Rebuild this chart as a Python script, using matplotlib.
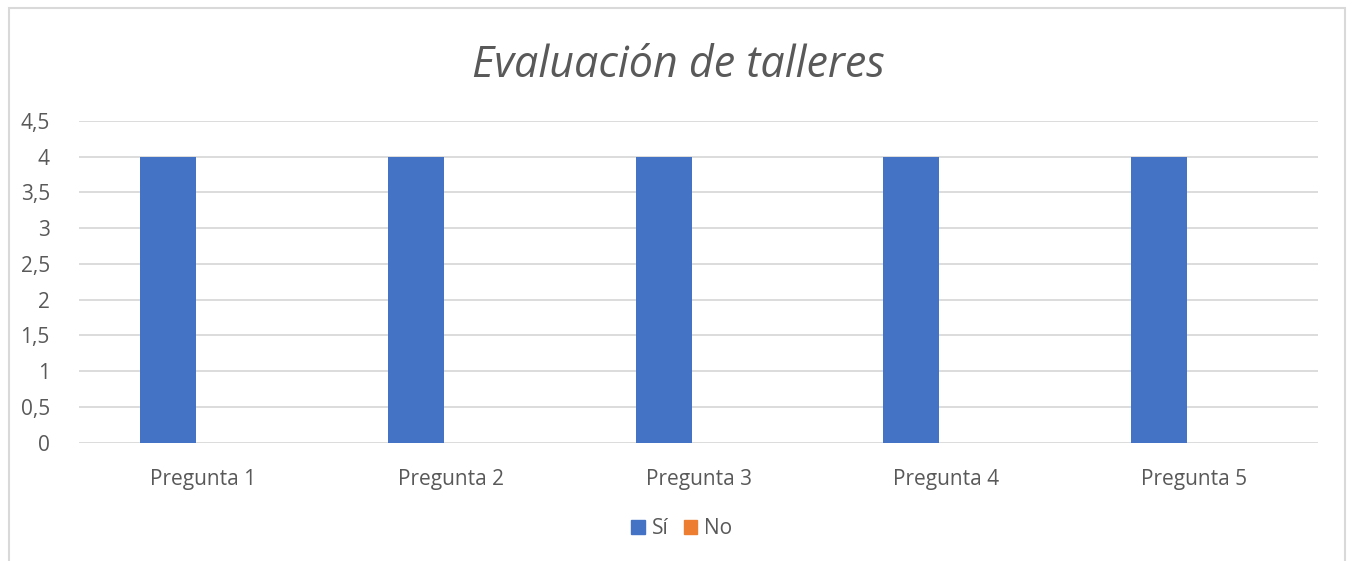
import numpy as np
import matplotlib
matplotlib.use('Agg')
import matplotlib.pyplot as plt
import matplotlib.patches as mpatches

# ── Data ──────────────────────────────────────────────────────────────────────
categories = ['Pregunta 1', 'Pregunta 2', 'Pregunta 3', 'Pregunta 4', 'Pregunta 5']
si_values = [4, 4, 4, 4, 4]
no_values = [0, 0, 0, 0, 0]
y_ticks = [0, 0.5, 1, 1.5, 2, 2.5, 3, 3.5, 4, 4.5]
y_ticklabels = ['0', '0,5', '1', '1,5', '2', '2,5', '3', '3,5', '4', '4,5']

COL_SI = '#4472C4'
COL_NO = '#ED7D31'
COL_TEXT = '#595959'
COL_GRID = '#D9D9D9'

plt.rcParams['font.family'] = ['Open Sans', 'DejaVu Sans']

fig = plt.figure(figsize=(13.52, 5.61), dpi=100)
ax = fig.add_axes([79 / 1352, 1 - 442.7 / 561, (1318 - 79) / 1352, (442.7 - 121) / 561])

x = np.arange(len(categories))
w = 0.226
ax.bar(x - 0.141, si_values, w, color=COL_SI, zorder=3, label='Sí')
ax.bar(x + 0.141, no_values, w, color=COL_NO, zorder=3, label='No')

ax.set_xlim(-0.5, len(categories) - 0.5)
ax.set_ylim(0, 4.5)
ax.set_yticks(y_ticks)
ax.set_yticklabels(y_ticklabels)
ax.set_xticks(x)
ax.set_xticklabels(categories)
ax.tick_params(axis='both', length=0, labelsize=15, colors=COL_TEXT)
ax.tick_params(axis='y', pad=21)
ax.tick_params(axis='x', pad=19)
ax.yaxis.grid(True, color=COL_GRID, linewidth=1.3, zorder=0)
ax.set_axisbelow(True)
for s in ax.spines.values():
    s.set_visible(False)

fig.text(678 / 1352, 1 - 66 / 561, 'Evaluación de talleres', ha='center', va='center',
         fontsize=31, style='italic', color=COL_TEXT)

handles = [mpatches.Patch(color=COL_SI, label='Sí'), mpatches.Patch(color=COL_NO, label='No')]
fig.legend(handles=handles, loc='center', bbox_to_anchor=(682 / 1352, 1 - 529 / 561),
           ncol=2, frameon=False, fontsize=15, labelcolor=COL_TEXT,
           handlelength=0.65, handleheight=0.65, handletextpad=0.35, columnspacing=0.7)

# chart border
fig.add_artist(mpatches.Rectangle((9 / 1352, -0.05), (1345 - 9) / 1352, 1.05 - 8 / 561,
                                  transform=fig.transFigure, fill=False,
                                  edgecolor='#D9D9D9', linewidth=1.5))

fig.savefig('out.png', dpi=100)
